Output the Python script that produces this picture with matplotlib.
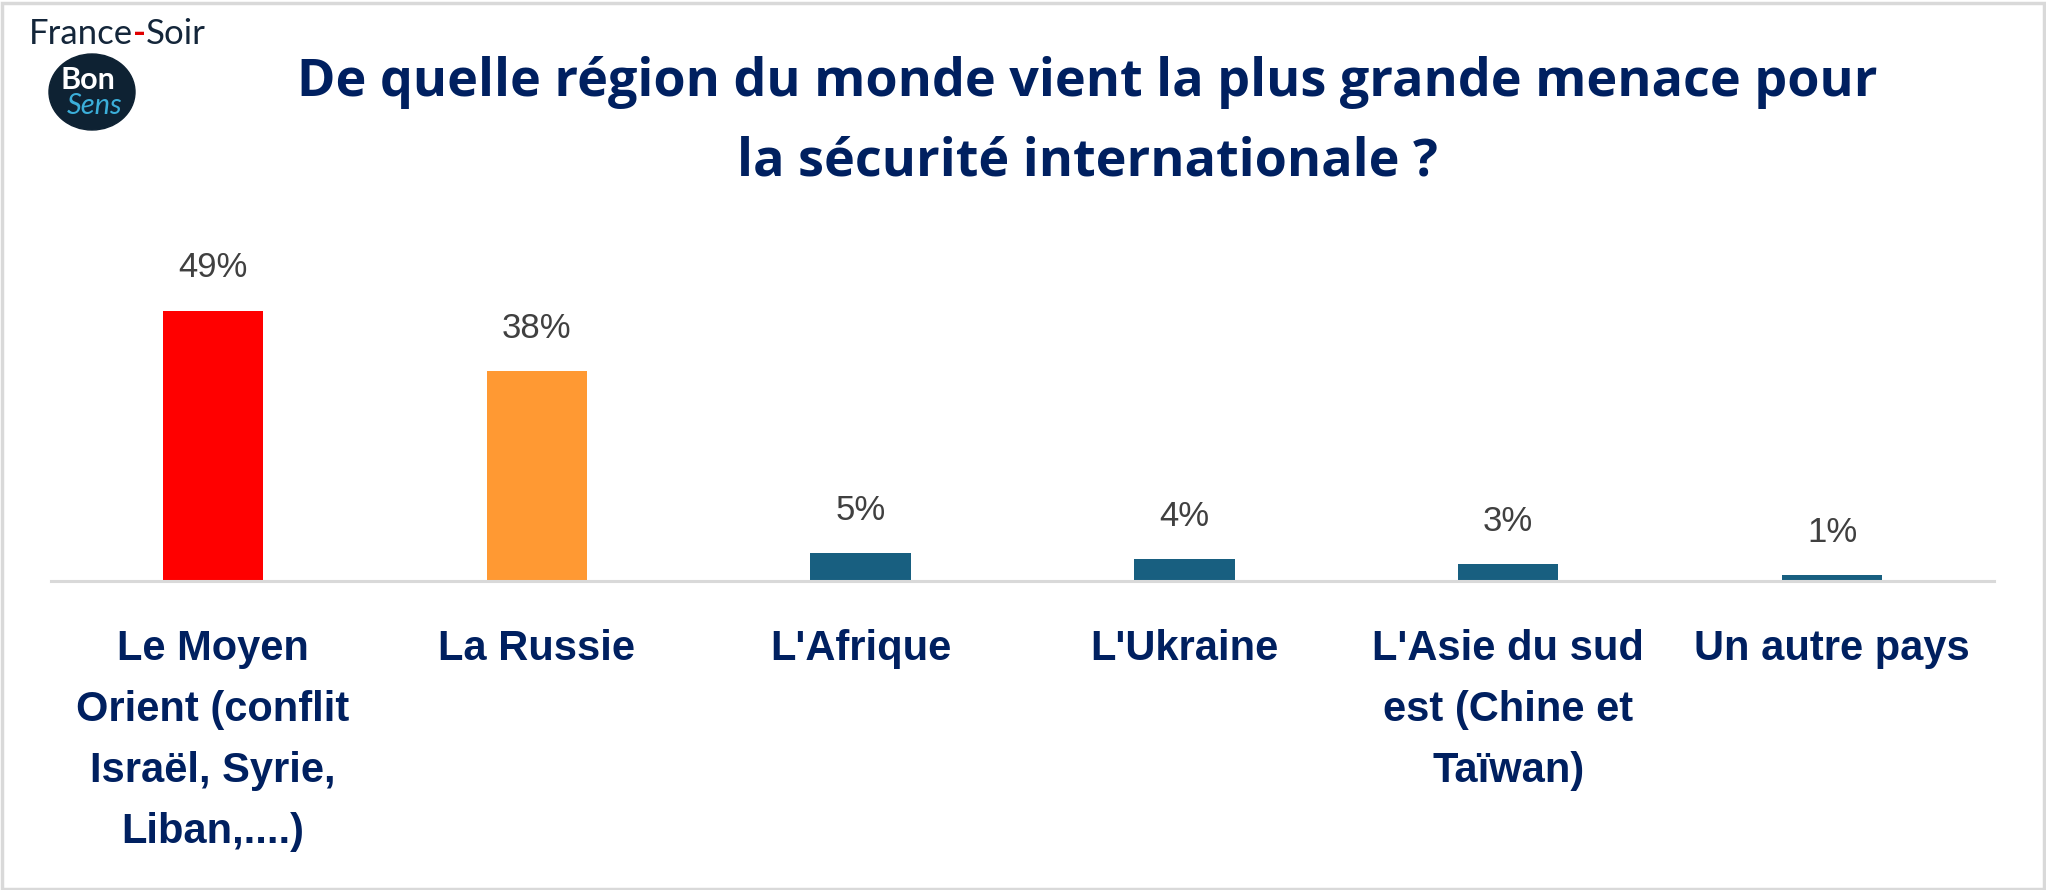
import matplotlib.pyplot as plt
from matplotlib.patches import Ellipse, Rectangle

# chart data
categories = ["Le Moyen\nOrient (conflit\nIsraël, Syrie,\nLiban,....)",
              "La Russie",
              "L'Afrique",
              "L'Ukraine",
              "L'Asie du sud\nest (Chine et\nTaïwan)",
              "Un autre pays"]
values = [49, 38, 5, 4, 3, 1]
bar_colors = ["#FF0000", "#FF9933", "#185F80", "#185F80", "#185F80", "#185F80"]
title_lines = ["De quelle région du monde vient la plus grande menace pour",
               "la sécurité internationale ?"]

W, H = 2046, 890
NAVY = "#002060"


def main():
    fig = plt.figure(figsize=(W / 100, H / 100), dpi=100)
    fig.patch.set_facecolor("white")

    # axes placed so the baseline sits where the reference has it
    ax = fig.add_axes([51 / W, (H - 581) / H, 1943 / W, 331 / H])
    ax.bar(range(len(values)), values, width=0.31, color=bar_colors, zorder=2)
    ax.set_xlim(-0.5, len(values) - 0.5)
    ax.set_ylim(0, 60)
    for s in ["top", "left", "right"]:
        ax.spines[s].set_visible(False)
    ax.spines["bottom"].set_color("#D9D9D9")
    ax.spines["bottom"].set_linewidth(2.2)
    ax.set_yticks([])
    ax.set_xticks([])

    for i, v in enumerate(values):
        ax.annotate(f"{v}%", xy=(i, v), xytext=(0, 24), textcoords="offset points",
                    ha="center", va="baseline", fontsize=25, color="#404040",
                    family=["Liberation Sans", "DejaVu Sans"])

    # category labels, one line at a time
    for i, lab in enumerate(categories):
        for j, line in enumerate(lab.split("\n")):
            ax.annotate(line, xy=(i, 0), xycoords=("data", "axes fraction"),
                        xytext=(0, -(79 + 61 * j) * 0.72), textcoords="offset points",
                        ha="center", va="baseline", fontsize=30, fontweight="bold",
                        color=NAVY, family=["Liberation Sans Narrow", "Liberation Sans", "DejaVu Sans"])

    # title
    for k, y in enumerate([96, 176]):
        fig.text(1087 / W, 1 - y / H, title_lines[k], ha="center", va="baseline",
                 fontsize=37.5, fontweight="bold", color=NAVY, family=["Open Sans", "DejaVu Sans"])

    # France-Soir / Bon Sens logo
    t1 = fig.text(29 / W, 1 - 44 / H, "France", ha="left", va="baseline", fontsize=25,
                  fontweight="normal", color="#14263A", family=["Lato", "DejaVu Sans"])
    t2 = fig.text(0, 0, "-", ha="left", va="baseline", fontsize=25, fontweight="bold",
                  color="#E00000", family=["Lato", "DejaVu Sans"])
    fig.canvas.draw()
    r = fig.canvas.get_renderer()
    bb = t1.get_window_extent(r)
    t2.set_position((bb.x1 / W, 1 - 44 / H))
    bb2 = t2.get_window_extent(r)
    fig.text(bb2.x1 / W, 1 - 44 / H, "Soir", ha="left", va="baseline", fontsize=25,
             fontweight="normal", color="#14263A", family=["Lato", "DejaVu Sans"])

    fig.patches.append(Ellipse((92 / W, 1 - 92 / H), 86 / W, 76 / H,
                               transform=fig.transFigure, color="#0E2233"))
    fig.text(88 / W, 1 - 89 / H, "Bon", ha="center", va="baseline", fontsize=22,
             fontweight="bold", color="white", family=["Lato", "DejaVu Sans"])
    fig.text(95 / W, 1 - 114 / H, "Sens", ha="center", va="baseline", fontsize=21,
             style="italic", color="#3BAFDA", family=["Lato", "DejaVu Sans"])

    # light grey frame
    fig.patches.append(Rectangle((1.5 / W, 1.5 / H), 1 - 4 / W, 1 - 4 / H,
                                 transform=fig.transFigure, fill=False,
                                 edgecolor="#D9D9D9", linewidth=2.5))

    plt.savefig("out.png", dpi=100)
    plt.close()


if __name__ == "__main__":
    main()
